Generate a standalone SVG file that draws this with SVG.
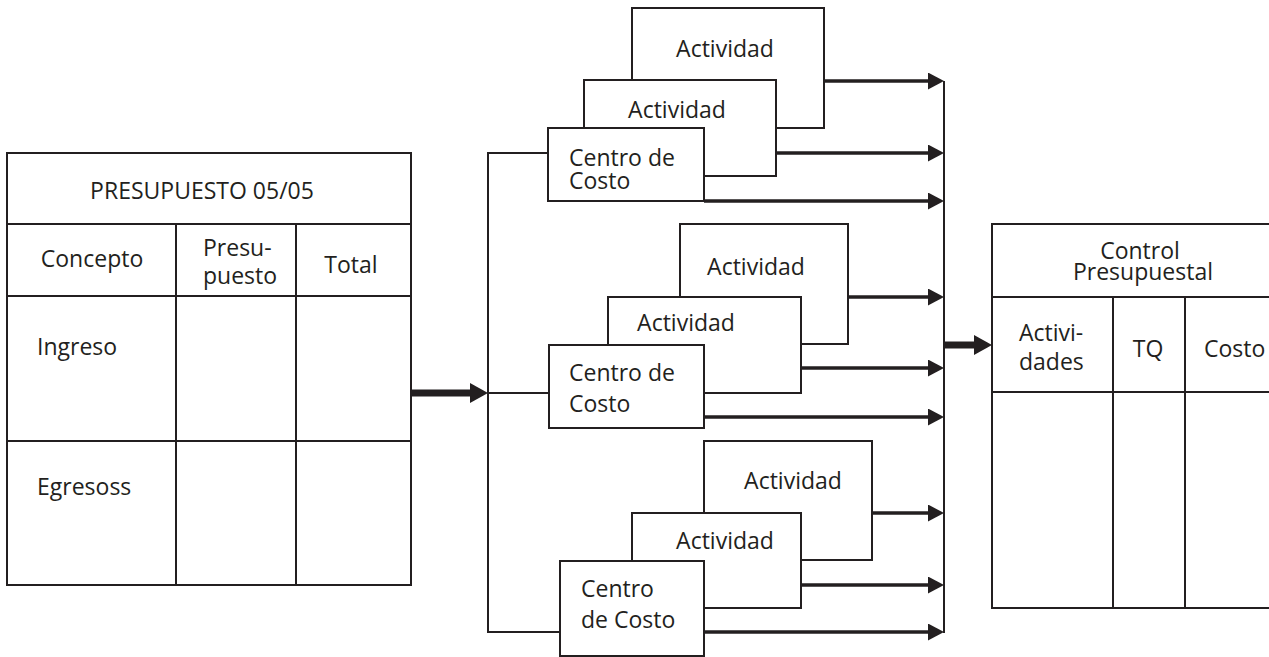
<svg xmlns="http://www.w3.org/2000/svg" width="1269" height="657" viewBox="0 0 1269 657">
  <style>
    .box { fill: #ffffff; stroke: #231f20; stroke-width: 2; }
    .rule { fill: none; stroke: #231f20; stroke-width: 2; }
    .lbl { font-family: "Open Sans", "Noto Sans", "Liberation Sans", sans-serif; font-size: 23px; fill: #231f20; }
    .mid { text-anchor: middle; }
    .flow { fill: none; stroke: #231f20; stroke-width: 3.5; }
    .heavy { fill: none; stroke: #231f20; stroke-width: 7; }
  </style>
  <defs>
    <marker id="head" markerUnits="userSpaceOnUse" markerWidth="16" markerHeight="17" refX="2" refY="8.5" orient="auto">
      <path d="M0,0 L16,8.5 L0,17 Z" fill="#231f20"/>
    </marker>
    <marker id="headBig" markerUnits="userSpaceOnUse" markerWidth="18" markerHeight="20" refX="2" refY="10" orient="auto">
      <path d="M0,0 L18,10 L0,20 Z" fill="#231f20"/>
    </marker>
  </defs>
  <rect width="1269" height="657" fill="#ffffff"/>

  <!-- Budget table -->
  <g id="presupuesto">
    <rect class="box" x="7" y="153" width="404" height="432"/>
    <path class="rule" d="M7,224 H411 M7,296 H411 M7,441 H411 M176,224 V585 M296,224 V585"/>
    <text class="lbl mid" x="202" y="199">PRESUPUESTO 05/05</text>
    <text class="lbl mid" x="92" y="267">Concepto</text>
    <text class="lbl" x="203" y="256">Presu-<tspan x="203" dy="28">puesto</tspan></text>
    <text class="lbl mid" x="351" y="273">Total</text>
    <text class="lbl" x="37" y="355">Ingreso</text>
    <text class="lbl" x="37" y="495">Egresoss</text>
  </g>

  <!-- Upper cost centre -->
  <g id="actividad-1b">
    <rect class="box" x="632" y="8" width="192" height="120"/>
    <text class="lbl mid" x="725" y="57">Actividad</text>
  </g>
  <g id="actividad-1a">
    <rect class="box" x="584" y="80" width="192" height="96"/>
    <text class="lbl mid" x="677" y="118">Actividad</text>
  </g>
  <g id="centro-1">
    <rect class="box" x="548" y="128" width="156" height="73"/>
    <text class="lbl" x="569" y="166">Centro de<tspan x="569" dy="23">Costo</tspan></text>
  </g>

  <!-- Middle cost centre -->
  <g id="actividad-2b">
    <rect class="box" x="680" y="224" width="168" height="120"/>
    <text class="lbl mid" x="756" y="275">Actividad</text>
  </g>
  <g id="actividad-2a">
    <rect class="box" x="608" y="297" width="193" height="96"/>
    <text class="lbl mid" x="686" y="331">Actividad</text>
  </g>
  <g id="centro-2">
    <rect class="box" x="549" y="345" width="155" height="83"/>
    <text class="lbl" x="569" y="381">Centro de<tspan x="569" dy="31">Costo</tspan></text>
  </g>

  <!-- Lower cost centre -->
  <g id="actividad-3b">
    <rect class="box" x="704" y="441" width="168" height="119"/>
    <text class="lbl mid" x="793" y="489">Actividad</text>
  </g>
  <g id="actividad-3a">
    <rect class="box" x="632" y="513" width="169" height="95"/>
    <text class="lbl mid" x="725" y="549">Actividad</text>
  </g>
  <g id="centro-3">
    <rect class="box" x="560" y="561" width="144" height="95"/>
    <text class="lbl" x="581" y="597">Centro<tspan x="581" dy="31">de Costo</tspan></text>
  </g>

  <!-- Budget control table -->
  <g id="control">
    <rect class="box" x="992" y="224" width="285" height="384"/>
    <path class="rule" d="M992,297 H1277 M992,392 H1277 M1113,297 V608 M1185,297 V608"/>
    <text class="lbl mid" x="1140" y="259">Control<tspan x="1143" dy="21">Presupuestal</tspan></text>
    <text class="lbl" x="1019" y="341">Activi-<tspan x="1019" dy="29">dades</tspan></text>
    <text class="lbl mid" x="1148" y="357">TQ</text>
    <text class="lbl" x="1204" y="357">Costo</text>
  </g>

  <!-- Connectors -->
  <g id="connectors">
    <path class="rule" d="M548,153 H488 V632 H560"/>
    <path class="rule" d="M488,393 H549"/>
    <path class="rule" d="M944,81 V633"/>
    <path class="heavy" d="M411,393 H472" marker-end="url(#headBig)"/>
    <path class="heavy" d="M944,345 H976" marker-end="url(#headBig)"/>
    <path class="flow" d="M824,81 H930" marker-end="url(#head)"/>
    <path class="flow" d="M776,153 H930" marker-end="url(#head)"/>
    <path class="flow" d="M704,201 H930" marker-end="url(#head)"/>
    <path class="flow" d="M848,297 H930" marker-end="url(#head)"/>
    <path class="flow" d="M801,368 H930" marker-end="url(#head)"/>
    <path class="flow" d="M704,417 H930" marker-end="url(#head)"/>
    <path class="flow" d="M872,513 H930" marker-end="url(#head)"/>
    <path class="flow" d="M801,585 H930" marker-end="url(#head)"/>
    <path class="flow" d="M704,632 H930" marker-end="url(#head)"/>
  </g>
</svg>
